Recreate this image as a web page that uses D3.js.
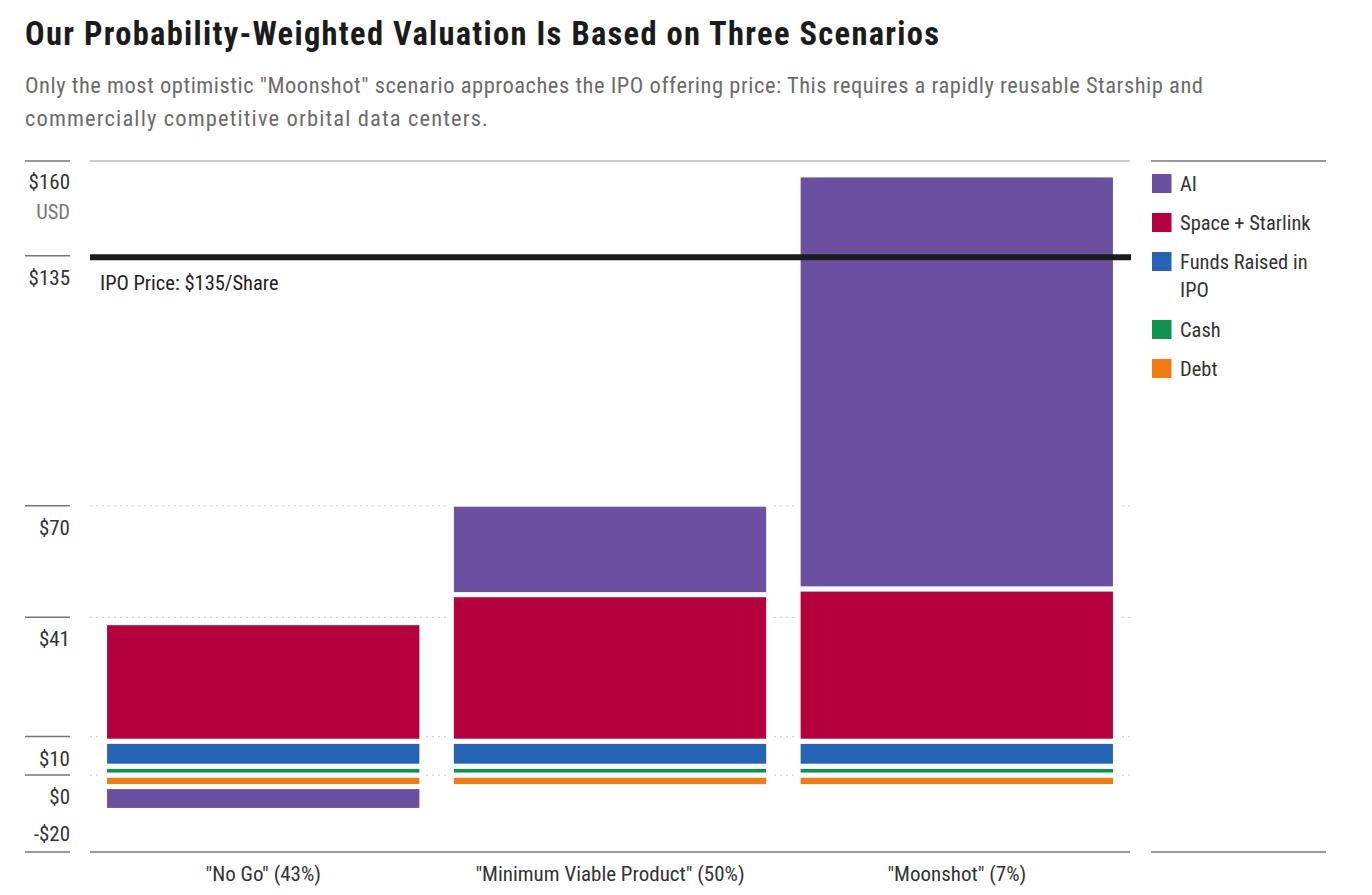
<!DOCTYPE html>
<html>
<head>
<meta charset="utf-8">
<script src="https://cdn.jsdelivr.net/npm/d3@7"></script>
<style>
  html, body { margin: 0; padding: 0; background: #fff; }
  svg { display: block; }
</style>
</head>
<body>
<svg id="chart" width="1372" height="895"></svg>
<script>
// ---------- data ----------
const categories = ['"No Go" (43%)', '"Minimum Viable Product" (50%)', '"Moonshot" (7%)'];
const seriesKeys = ["Debt", "Cash", "Funds Raised in IPO", "Space + Starlink", "AI"];
const debtValues  = [-3.0, -3.0, -3.0];
const cashValues  = [2.3, 2.3, 2.3];
const fundsValues = [6.5, 6.5, 6.5];
const spaceValues = [30.8, 38.1, 39.6];
const aiValues    = [-6.2, 23.5, 107.6];
const tickValues  = [160, 135, 70, 41, 10, 0, -20];
const tickLabels  = ["$160", "$135", "$70", "$41", "$10", "$0", "-$20"];
const gridValues  = [70, 41, 10, 0];
const ipoPrice    = 135;
const colors = {
  "AI": "#6b4fa1",
  "Space + Starlink": "#b4003c",
  "Funds Raised in IPO": "#2563b4",
  "Cash": "#0f9150",
  "Debt": "#f27b12"
};

// ---------- font ----------
function pickFont(cands) {
  const c = document.createElement("canvas").getContext("2d");
  const s = "Probability-Weighted Valuation 0123456789";
  c.font = "40px monospace"; const wm = c.measureText(s).width;
  c.font = "40px serif"; const ws = c.measureText(s).width;
  for (const f of cands) {
    c.font = `40px "${f}", monospace`; const a = c.measureText(s).width;
    c.font = `40px "${f}", serif`; const b = c.measureText(s).width;
    if (a !== wm || b !== ws) return f;
  }
  return "Roboto";
}
const FONT = `"${pickFont(["Roboto Condensed", "Liberation Sans Narrow", "Arial Narrow", "DejaVu Sans Condensed"])}", Roboto, sans-serif`;

// ---------- setup ----------
const svg = d3.select("#chart").style("font-family", FONT);
const plotLeft = 90, plotRight = 1130;

const table = categories.map((c, i) => ({
  category: c,
  "Debt": debtValues[i],
  "Cash": cashValues[i],
  "Funds Raised in IPO": fundsValues[i],
  "Space + Starlink": spaceValues[i],
  "AI": aiValues[i]
}));

const y = d3.scaleLinear().domain([-20, 160]).range([852, 159.5]);
const x = d3.scaleBand().domain(categories).range([plotLeft, plotRight])
  .paddingInner(0.085).paddingOuter(0.042);

// ---------- title ----------
svg.append("text").attr("x", 25).attr("y", 45)
  .attr("font-size", 32.5).attr("font-weight", 700).attr("fill", "#1b1b1b")
  .attr("textLength", 914).attr("lengthAdjust", "spacing")
  .text("Our Probability-Weighted Valuation Is Based on Three Scenarios");

const sub = svg.append("text").attr("font-size", 22.5).attr("fill", "#6b6b6b");
sub.append("tspan").attr("x", 25).attr("y", 93)
  .attr("textLength", 1178).attr("lengthAdjust", "spacing")
  .text('Only the most optimistic "Moonshot" scenario approaches the IPO offering price: This requires a rapidly reusable Starship and');
sub.append("tspan").attr("x", 25).attr("y", 126)
  .attr("textLength", 463).attr("lengthAdjust", "spacing")
  .text("commercially competitive orbital data centers.");

// ---------- grid ----------
svg.append("g").selectAll("line").data(gridValues).join("line")
  .attr("x1", plotLeft).attr("x2", plotRight)
  .attr("y1", d => y(d)).attr("y2", d => y(d))
  .attr("stroke", "#cfcfcf").attr("stroke-width", 1.2).attr("stroke-dasharray", "2,4");

svg.append("line").attr("x1", plotLeft).attr("x2", plotRight)
  .attr("y1", y(160) + 1.5).attr("y2", y(160) + 1.5)
  .attr("stroke", "#999").attr("stroke-width", 1.2);

// ---------- bars ----------
const stack = d3.stack().keys(seriesKeys).offset(d3.stackOffsetDiverging);
const layers = stack(table);

svg.append("g").selectAll("g").data(layers).join("g")
  .attr("fill", d => colors[d.key])
  .selectAll("rect").data(d => d).join("rect")
  .attr("x", d => x(d.data.category))
  .attr("width", x.bandwidth())
  .attr("y", d => y(Math.max(d[0], d[1])))
  .attr("height", d => Math.abs(y(d[0]) - y(d[1])))
  .attr("stroke", "#fff").attr("stroke-width", 5);

// ---------- bottom axis line ----------
svg.append("line").attr("x1", plotLeft).attr("x2", plotRight)
  .attr("y1", y(-20)).attr("y2", y(-20))
  .attr("stroke", "#777").attr("stroke-width", 1.5);

// ---------- IPO line ----------
svg.append("line").attr("x1", plotLeft).attr("x2", plotRight + 1)
  .attr("y1", y(ipoPrice) + 1.5).attr("y2", y(ipoPrice) + 1.5)
  .attr("stroke", "#1c1c1c").attr("stroke-width", 6);
svg.append("text").attr("x", 100).attr("y", y(ipoPrice) + 34)
  .attr("font-size", 20.5).attr("fill", "#222")
  .text("IPO Price: $" + ipoPrice + "/Share");

// ---------- y axis ----------
const yAxisG = svg.append("g");
yAxisG.selectAll("line").data(tickValues).join("line")
  .attr("x1", 25).attr("x2", 70)
  .attr("y1", d => y(d) + (d === 160 ? 1.5 : 0)).attr("y2", d => y(d) + (d === 160 ? 1.5 : 0))
  .attr("stroke", "#777").attr("stroke-width", 1.5);
yAxisG.selectAll("text").data(tickValues).join("text")
  .attr("x", 70).attr("text-anchor", "end")
  .attr("y", d => d < 0 ? y(d) - 11 : y(d) + 29)
  .attr("font-size", 21).attr("fill", "#333")
  .text((d, i) => tickLabels[i]);
svg.append("text").attr("x", 70).attr("y", y(160) + 59).attr("text-anchor", "end")
  .attr("font-size", 20.5).attr("fill", "#777").text("USD");

// ---------- x labels ----------
svg.append("g").selectAll("text").data(categories).join("text")
  .attr("x", d => x(d) + x.bandwidth() / 2).attr("y", 881)
  .attr("text-anchor", "middle").attr("font-size", 21).attr("fill", "#333")
  .text(d => d);

// ---------- legend ----------
const lg = svg.append("g");
lg.append("line").attr("x1", 1151).attr("x2", 1326).attr("y1", y(160) + 1.5).attr("y2", y(160) + 1.5)
  .attr("stroke", "#777").attr("stroke-width", 1.5);
lg.append("line").attr("x1", 1151).attr("x2", 1326).attr("y1", y(-20)).attr("y2", y(-20))
  .attr("stroke", "#777").attr("stroke-width", 1.5);
const legendRows = [
  { key: "AI", lines: ["AI"], y: 174 },
  { key: "Space + Starlink", lines: ["Space + Starlink"], y: 213 },
  { key: "Funds Raised in IPO", lines: ["Funds Raised in", "IPO"], y: 252 },
  { key: "Cash", lines: ["Cash"], y: 320 },
  { key: "Debt", lines: ["Debt"], y: 359 }
];
const rows = lg.selectAll("g.row").data(legendRows).join("g").attr("class", "row")
  .attr("transform", d => `translate(1152,${d.y})`);
rows.append("rect").attr("width", 19.5).attr("height", 19).attr("fill", d => colors[d.key]);
rows.each(function(d) {
  const t = d3.select(this).append("text").attr("x", 28).attr("font-size", 20.5).attr("fill", "#333");
  d.lines.forEach((l, i) => t.append("tspan").attr("x", 28).attr("y", 17 + i * 28).text(l));
});
</script>
</body>
</html>
